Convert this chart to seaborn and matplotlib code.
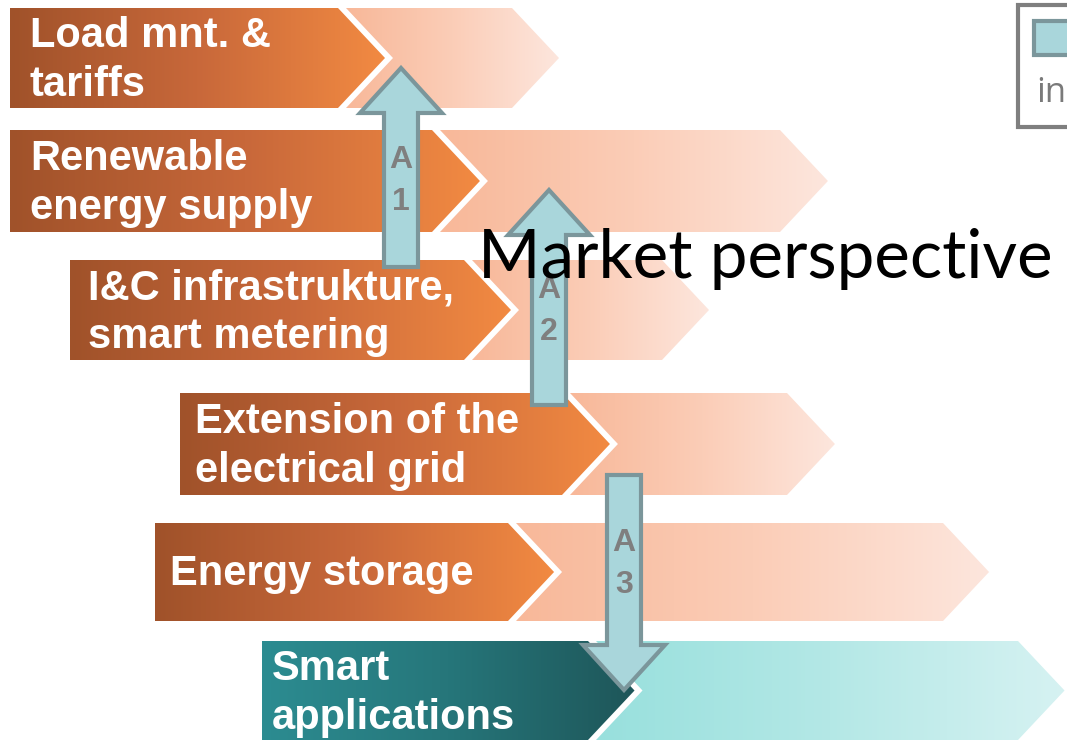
import numpy as np
import matplotlib
matplotlib.use("Agg")
import matplotlib.pyplot as plt
from matplotlib.patches import Polygon, Rectangle
import seaborn as sns

# ---- data ----
labels = ["Load mnt. &\ntariffs", "Renewable\nenergy supply", "I&C infrastrukture,\nsmart metering",
          "Extension of the\nelectrical grid", "Energy storage", "Smart\napplications"]
row_left = [10, 10, 70, 180, 155, 262]
row_split = [338, 432, 464, 562, 508, 588]
row_right = [512, 780, 662, 787, 943, 1018]
row_top = [8, 130, 260, 393, 523, 641]
row_bottom = [108, 232, 360, 495, 621, 740]
row_kind = ["orange", "orange", "orange", "orange", "orange", "teal"]
text_x = [30, 30, 88, 195, 170, 272]

arrow_names = [("A", "1"), ("A", "2"), ("A", "3")]
arrow_x = [401, 549, 624]
arrow_tail = [267, 405, 475]
arrow_tip = [68, 190, 690]
letter_y = [[160, 202], [290, 332], [543, 585]]

title_text = "Market perspective"
legend_text = "in"

# ---- style ----
sns.set_theme(style="white")
plt.rcParams['font.family'] = ['Liberation Sans', 'DejaVu Sans']

dark_cmaps = {
    "orange": sns.blend_palette(["#a0522a", "#c8683a", "#f28a42"], as_cmap=True),
    "teal": sns.blend_palette(["#2c8c91", "#26767a", "#1e5659"], as_cmap=True),
}
light_cmaps = {
    "orange": sns.blend_palette(["#f8b899", "#fbcdb7", "#fde6dd"], as_cmap=True),
    "teal": sns.blend_palette(["#98e0dd", "#b4e8e6", "#d6f2f2"], as_cmap=True),
}

W, H = 1067, 743
fig = plt.figure(figsize=(W / 100, H / 100), dpi=100)
ax = fig.add_axes([0, 0, 1, 1])
ax.set_xlim(0, W)
ax.set_ylim(H, 0)
ax.axis("off")

grad = np.linspace(0, 1, 256).reshape(1, -1)


def grad_poly(pts, cmap, z):
    poly = Polygon(pts, closed=True, facecolor="none", edgecolor="none", zorder=z)
    ax.add_patch(poly)
    xs = [p[0] for p in pts]
    ys = [p[1] for p in pts]
    im = ax.imshow(grad, cmap=cmap, aspect="auto",
                   extent=(min(xs), max(xs), max(ys), min(ys)), zorder=z,
                   interpolation="bilinear")
    im.set_clip_path(poly)


gap = 8
for i, lab in enumerate(labels):
    t, b = row_top[i], row_bottom[i]
    m = (t + b) / 2
    d = (b - t) * 0.47
    xl, xc, xr = row_left[i], row_split[i], row_right[i]
    light = [(xc + gap, t), (xr, t), (xr + d, m), (xr, b), (xc + gap, b), (xc + gap + d, m)]
    dark = [(xl, t), (xc, t), (xc + d, m), (xc, b), (xl, b)]
    grad_poly(light, light_cmaps[row_kind[i]], 1)
    grad_poly(dark, dark_cmaps[row_kind[i]], 2)
    lines = lab.split("\n")
    if len(lines) == 1:
        ys = [m + 2]
    else:
        ys = [m - 22, m + 27]
    for ln, yy in zip(lines, ys):
        ax.text(text_x[i], yy, ln, color="white", fontsize=30, fontweight="bold",
                ha="left", va="center", zorder=5)

# arrows
shaft_hw = 17
head_hw = 41
head_len = 45
for i in range(3):
    x = arrow_x[i]
    tail, tip = arrow_tail[i], arrow_tip[i]
    sgn = 1 if tip > tail else -1
    base = tip - sgn * head_len
    pts = [(x - shaft_hw, tail), (x - shaft_hw, base), (x - head_hw, base), (x, tip),
           (x + head_hw, base), (x + shaft_hw, base), (x + shaft_hw, tail)]
    ax.add_patch(Polygon(pts, closed=True, facecolor="#a9d6db", edgecolor="#7b969b",
                         linewidth=3, joinstyle="miter", zorder=6))
    for ch, yy in zip(arrow_names[i], letter_y[i]):
        ax.text(x, yy, ch, color="#7f7f7f", fontsize=23, fontweight="bold",
                ha="center", va="center", zorder=7)

# legend box (cut at right edge)
ax.add_patch(Rectangle((1018, 5), 120, 122, facecolor="white", edgecolor="#7f7f7f",
                       linewidth=3, zorder=3, clip_on=False))
ax.add_patch(Rectangle((1034, 21), 60, 34, facecolor="#a9d6db", edgecolor="#7b969b",
                       linewidth=3, zorder=4))
ax.text(1036, 102, legend_text, color="#7a7a7a", fontsize=25, ha="left", va="baseline",
        family=["Open Sans", "DejaVu Sans"], zorder=5)

ax.text(478, 278, title_text, color="black", fontsize=48.5, ha="left", va="baseline",
        family=["Lato", "DejaVu Sans"], zorder=10)

fig.savefig("out.png", dpi=100)
